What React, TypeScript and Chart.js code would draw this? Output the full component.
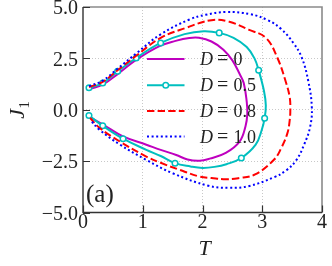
import React, { useEffect, useRef } from 'react';
import { Chart, registerables } from 'chart.js';

Chart.register(...registerables);

// ---- data ----
const T_D0 = [0.12, 0.33, 0.6, 0.9, 1.28, 1.55, 1.78, 1.94, 2.15, 2.35, 2.5, 2.62, 2.69, 2.74, 2.75, 2.72, 2.62, 2.39, 2.12, 1.95, 1.75, 1.56, 1.3, 1.06, 0.67, 0.34, 0.1];
const J_D0 = [1.02, 1.22, 1.78, 2.45, 3.1, 3.35, 3.49, 3.5, 3.32, 2.92, 2.4, 1.75, 1.3, 0.4, -0.2, -0.8, -1.55, -2.1, -2.38, -2.48, -2.42, -2.2, -1.95, -1.7, -1.3, -0.73, -0.33];

const T_D05 = [0.1, 0.33, 0.58, 0.89, 1.3, 1.7, 2.02, 2.28, 2.52, 2.74, 2.87, 2.94, 3.03, 3.06, 3.04, 2.99, 2.89, 2.65, 2.4, 2.2, 2.0, 1.8, 1.54, 1.3, 1.06, 0.67, 0.33, 0.1];
const J_D05 = [1.07, 1.3, 1.87, 2.52, 3.25, 3.68, 3.82, 3.74, 3.5, 3.05, 2.5, 1.92, 0.9, 0.2, -0.41, -1.0, -1.7, -2.35, -2.65, -2.78, -2.83, -2.76, -2.6, -2.25, -1.95, -1.41, -0.78, -0.28];
const D05_MARKERS = [0, 1, 2, 3, 4, 7, 11, 14, 17, 22, 25, 26, 27];

const T_D08 = [0.1, 0.33, 0.6, 0.9, 1.3, 1.72, 2.15, 2.45, 2.77, 3.06, 3.25, 3.4, 3.46, 3.47, 3.46, 3.42, 3.32, 3.2, 2.88, 2.6, 2.39, 2.15, 1.95, 1.62, 1.3, 1.06, 0.62, 0.28, 0.12];
const J_D08 = [1.1, 1.36, 1.97, 2.65, 3.5, 3.98, 4.36, 4.28, 3.9, 3.5, 2.55, 1.3, 0.6, 0.05, -0.5, -1.15, -1.85, -2.42, -3.15, -3.33, -3.38, -3.32, -3.25, -2.93, -2.58, -2.28, -1.55, -0.89, -0.4];

const T_D10 = [0.1, 0.33, 0.6, 0.9, 1.3, 1.78, 2.05, 2.4, 2.8, 3.1, 3.32, 3.52, 3.66, 3.77, 3.83, 3.8, 3.7, 3.57, 3.4, 3.2, 2.77, 2.44, 2.1, 1.5, 1.06, 0.62, 0.28, 0.12];
const J_D10 = [1.15, 1.42, 2.05, 2.76, 3.67, 4.39, 4.62, 4.76, 4.65, 4.35, 3.92, 3.25, 2.55, 1.4, 0.1, -0.85, -1.7, -2.45, -2.95, -3.28, -3.72, -3.8, -3.7, -3.09, -2.44, -1.7, -0.98, -0.49];

const D_LABELS = ['0', '0.5', '0.8', '1.0'];
const X_TICKS = [0, 1, 2, 3, 4];
const Y_TICKS = [-5, -2.5, 0, 2.5, 5];
const PANEL_LABEL = '(a)';
const X_TITLE = 'T';
const Y_TITLE = 'J';
const Y_TITLE_SUB = '1';

const COLORS = ['#bf00bf', '#00bfbf', '#ff0000', '#0000ff'];
const DASHES: number[][] = [[], [], [7.4, 3.2], [2, 2.6]];
const SERIF = '"Liberation Serif", "DejaVu Serif", serif';

const toPts = (ts: number[], js: number[]) => ts.map((t, i) => ({ x: t, y: js[i] }));

const decor = {
  id: 'decor',
  afterDatasetsDraw(chart: any) {
    const { ctx, chartArea: a, scales } = chart;
    const xs = scales.x;
    const ys = scales.y;
    ctx.save();
    ctx.setLineDash([]);
    // top / right spines (gray)
    ctx.strokeStyle = '#8a8a8a';
    ctx.lineWidth = 1.6;
    ctx.beginPath();
    ctx.moveTo(a.left, a.top);
    ctx.lineTo(a.right, a.top);
    ctx.lineTo(a.right, a.bottom);
    ctx.stroke();
    // left / bottom spines (dark)
    ctx.strokeStyle = '#333333';
    ctx.lineWidth = 1.4;
    ctx.beginPath();
    ctx.moveTo(a.left, a.top);
    ctx.lineTo(a.left, a.bottom);
    ctx.lineTo(a.right, a.bottom);
    ctx.stroke();
    // inward ticks
    ctx.lineWidth = 1.2;
    ctx.beginPath();
    X_TICKS.forEach((v) => {
      const p = Math.round(xs.getPixelForValue(v)) + 0.5;
      ctx.moveTo(p, a.bottom);
      ctx.lineTo(p, a.bottom - 7);
    });
    Y_TICKS.forEach((v) => {
      const p = Math.round(ys.getPixelForValue(v)) + 0.5;
      ctx.moveTo(a.left, p);
      ctx.lineTo(a.left + 7, p);
    });
    ctx.stroke();

    // legend
    const lx0 = a.left + 64;
    const lx1 = a.left + 101.5;
    const tx = a.left + 117;
    const rowY = [52, 78.3, 104, 129.5].map((d) => a.top + d);
    chart.data.datasets.forEach((ds: any, i: number) => {
      const yy = rowY[i];
      ctx.save();
      ctx.strokeStyle = COLORS[i];
      ctx.lineWidth = 2;
      ctx.setLineDash(DASHES[i]);
      ctx.beginPath();
      ctx.moveTo(lx0, yy);
      ctx.lineTo(lx1, yy);
      ctx.stroke();
      ctx.setLineDash([]);
      if (i === 1) {
        ctx.fillStyle = '#ffffff';
        ctx.lineWidth = 1.5;
        ctx.beginPath();
        ctx.arc((lx0 + lx1) / 2, yy, 2.8, 0, Math.PI * 2);
        ctx.fill();
        ctx.stroke();
      }
      ctx.fillStyle = '#222222';
      ctx.textBaseline = 'alphabetic';
      ctx.textAlign = 'left';
      ctx.font = `italic 18px ${SERIF}`;
      ctx.fillText('D', tx, yy + 6);
      ctx.font = `20px ${SERIF}`;
      ctx.fillText('=', tx + 17, yy + 6);
      ctx.font = `18px ${SERIF}`;
      ctx.fillText(D_LABELS[i], tx + 33.5, yy + 6);
      ctx.restore();
    });

    // panel label
    ctx.fillStyle = '#222222';
    ctx.font = `25px ${SERIF}`;
    ctx.textAlign = 'left';
    ctx.textBaseline = 'alphabetic';
    ctx.fillText(PANEL_LABEL, a.left + 3, a.bottom - 11);

    // x title
    ctx.font = `italic 22px ${SERIF}`;
    ctx.textAlign = 'center';
    ctx.fillText(X_TITLE, (a.left + a.right) / 2 + 2, 254.5);

    // y title (rotated, with subscript)
    const midY = (a.top + a.bottom) / 2;
    ctx.save();
    ctx.translate(24, midY + 9);
    ctx.rotate(-Math.PI / 2);
    ctx.textAlign = 'left';
    ctx.font = `italic 22px ${SERIF}`;
    ctx.fillText(Y_TITLE, 0, 0);
    const w = ctx.measureText(Y_TITLE).width;
    ctx.font = `15px ${SERIF}`;
    ctx.fillText(Y_TITLE_SUB, w + 0.5, 5);
    ctx.restore();

    ctx.restore();
  },
};

export default function App() {
  const ref = useRef<HTMLCanvasElement | null>(null);

  useEffect(() => {
    if (!ref.current) return;
    const series = [
      toPts(T_D0, J_D0),
      toPts(T_D05, J_D05),
      toPts(T_D08, J_D08),
      toPts(T_D10, J_D10),
    ];
    const datasets = series.map((pts, i) => ({
      label: 'D = ' + D_LABELS[i],
      data: pts,
      showLine: true,
      borderColor: COLORS[i],
      backgroundColor: COLORS[i],
      borderWidth: 2,
      borderDash: DASHES[i],
      tension: 0.4,
      order: 3 - i,
      pointRadius: i === 1 ? pts.map((_, k) => (D05_MARKERS.includes(k) ? 2.8 : 0)) : 0,
      pointBackgroundColor: '#ffffff',
      pointBorderColor: COLORS[i],
      pointBorderWidth: 1.5,
      pointHoverRadius: 0,
    }));

    const gridColor = (edgeVals: number[]) => (c: any) =>
      c.tick && edgeVals.includes(c.tick.value) ? 'rgba(0,0,0,0)' : '#c8c8c8';

    const chart = new Chart(ref.current, {
      type: 'scatter',
      data: { datasets },
      plugins: [decor],
      options: {
        responsive: false,
        animation: false,
        events: [],
        layout: { padding: { left: 0, top: 7, right: 10, bottom: 0 } },
        plugins: {
          legend: { display: false },
          tooltip: { enabled: false },
        },
        scales: {
          x: {
            type: 'linear',
            min: 0,
            max: 4,
            afterBuildTicks: (s: any) => {
              s.ticks = X_TICKS.map((v) => ({ value: v }));
            },
            ticks: {
              autoSkip: false,
              maxRotation: 0,
              padding: -2,
              color: '#222222',
              font: { family: SERIF, size: 20 },
              callback: (v: any) => String(v),
            },
            grid: {
              drawTicks: false,
              color: gridColor([0, 4]),
              lineWidth: 1,
            },
            border: { display: false, dash: [1, 2] },
            afterFit: (s: any) => {
              s.height = 53.5;
              s.paddingLeft = 0;
              s.paddingRight = 0;
            },
          },
          y: {
            type: 'linear',
            min: -5,
            max: 5,
            afterBuildTicks: (s: any) => {
              s.ticks = Y_TICKS.map((v) => ({ value: v }));
            },
            ticks: {
              autoSkip: false,
              padding: 5,
              labelOffset: 2,
              color: '#222222',
              font: { family: SERIF, size: 20 },
              callback: (v: any) => {
                const n = Number(v);
                const s = Math.abs(n).toFixed(1);
                return n < 0 ? '\u2212' + s : s;
              },
            },
            grid: {
              drawTicks: false,
              color: gridColor([-5, 5]),
              lineWidth: 1,
            },
            border: { display: false, dash: [1, 2] },
            afterFit: (s: any) => {
              s.width = 83;
              s.paddingTop = 0;
              s.paddingBottom = 0;
            },
          },
        },
      },
    } as any);
    return () => chart.destroy();
  }, []);

  return (
    <div style={{ position: 'fixed', left: 0, top: 0, width: 332, height: 266, background: '#ffffff' }}>
      <canvas ref={ref} width={332} height={266} style={{ display: 'block' }} />
    </div>
  );
}
